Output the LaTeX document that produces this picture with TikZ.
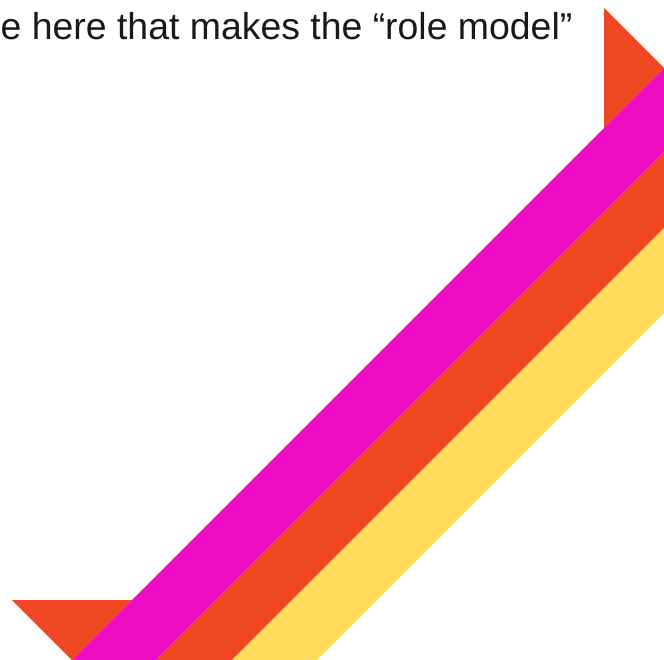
\documentclass[tikz,border=0pt]{standalone}
\usepackage{fontspec}
\setmainfont{Liberation Sans}
\definecolor{stripemagenta}{HTML}{EE0DC2}
\definecolor{stripeorange}{HTML}{EF4624}
\definecolor{stripeyellow}{HTML}{FFDD5B}
\tikzset{
  band/.style={draw=none},
  flag/.style={fill=stripeorange, draw=none},
  caption/.style={anchor=base west, inner sep=0pt, font=\fontsize{37.4}{40}\selectfont, text=black!90}
}
\begin{document}
\begin{tikzpicture}[x=1pt, y=-1pt]
  \useasboundingbox (0,0) rectangle (664,660);
  \clip (0,0) rectangle (664,660);
  \fill[white] (0,0) rectangle (664,660);
  % caption text (cut off at the left)
  \node[caption] (caption) at (0.5,40) {e here that makes the “role model”};
  % orange arrow-head triangles
  \fill[flag] (604,8) -- (664,68) -- (604,128) -- cycle;
  \fill[flag] (12,600) -- (132,600) -- (72,660) -- cycle;
  % diagonal bands, edges on lines x+y=c
  \fill[stripemagenta] (772,-40) -- (32,700) -- (116,700) -- (856,-40) -- cycle;
  \fill[stripeorange]  (856,-40) -- (116,700) -- (192,700) -- (932,-40) -- cycle;
  \fill[stripeyellow]  (932,-40) -- (192,700) -- (277,700) -- (1017,-40) -- cycle;
\end{tikzpicture}
\end{document}
